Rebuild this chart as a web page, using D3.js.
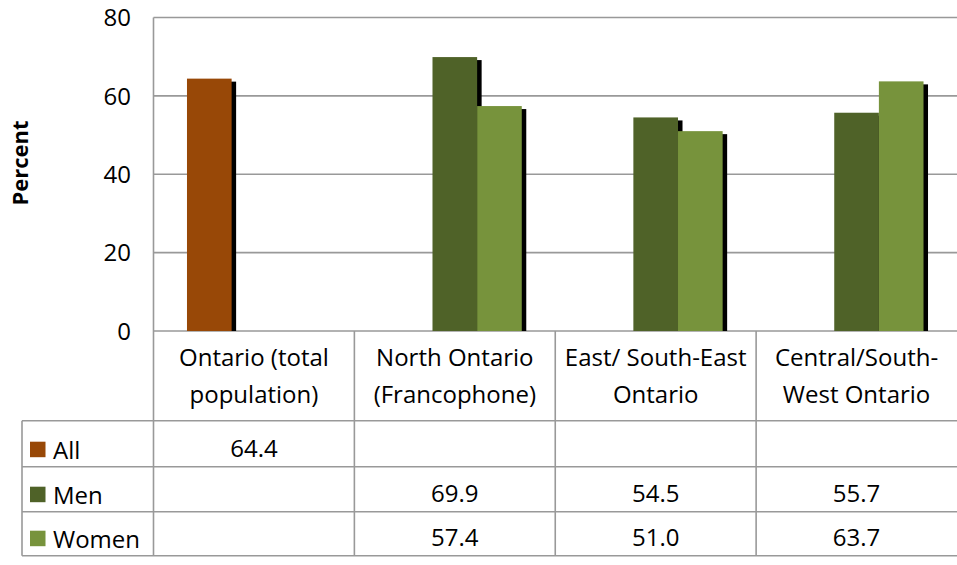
<!DOCTYPE html>
<html>
<head>
<meta charset="utf-8">
<script src="https://cdn.jsdelivr.net/npm/d3@7"></script>
<style>
  body { margin: 0; background: #fff; }
  text { font-family: "Open Sans", "Noto Sans", sans-serif; fill: #000; }
</style>
</head>
<body>
<div id="main"></div>
<script>
// data
var categories = [
    ["Ontario (total", "population)"],
    ["North Ontario", "(Francophone)"],
    ["East/ South-East", "Ontario"],
    ["Central/South-", "West Ontario"]
];
var seriesNames = ["All", "Men", "Women"];
var allValues = [64.4, null, null, null];
var menValues = [null, 69.9, 54.5, 55.7];
var womenValues = [null, 57.4, 51.0, 63.7];
var yTicks = [0, 20, 40, 60, 80];
var seriesColors = ["#984807", "#4f6228", "#77933c"];

var ctx = {
    w: 957,
    h: 565,
    left: 153.5,
    right: 957,
    top: 17.5,
    bottom: 331,
    rows: [420.7, 466.7, 511.7, 555.7],
    legendLeft: 22,
    grid: "#999999",
    fontSize: 24
};

var createChart = function(svg) {
    var series = [allValues, menValues, womenValues];

    var x = d3.scaleBand()
        .domain(d3.range(categories.length))
        .range([ctx.left, ctx.right]);
    var xs = d3.scaleBand()
        .domain(d3.range(seriesNames.length))
        .range([0, x.bandwidth()])
        .paddingOuter(0.75);  // group takes 2/3 of the band
    var y = d3.scaleLinear().domain([0, 80]).range([ctx.bottom, ctx.top]);

    // gridlines
    svg.append("g").selectAll("line")
        .data(yTicks)
        .enter().append("line")
        .attr("x1", ctx.left).attr("x2", ctx.right)
        .attr("y1", function(d) { return y(d); })
        .attr("y2", function(d) { return y(d); })
        .style("stroke", ctx.grid).style("stroke-width", 1.6);

    // tick labels
    svg.append("g").selectAll("text")
        .data(yTicks)
        .enter().append("text")
        .attr("x", 131)
        .attr("y", function(d) { return y(d); })
        .attr("dy", "0.36em")
        .attr("text-anchor", "end")
        .style("font-size", ctx.fontSize + "px")
        .text(function(d) { return d; });

    // axis title
    svg.append("text")
        .attr("transform", "translate(28," + 163 + ") rotate(-90)")
        .attr("text-anchor", "middle")
        .style("font-size", "22px")
        .style("font-weight", "bold")
        .text("Percent");

    // bars with a black shadow, drawn series by series
    svg.append("clipPath").attr("id", "plotclip")
        .append("rect")
        .attr("x", ctx.left).attr("y", 0)
        .attr("width", ctx.right - ctx.left).attr("height", ctx.bottom);
    var bars = svg.append("g").attr("clip-path", "url(#plotclip)");
    series.forEach(function(vals, s) {
        var g = bars.append("g");
        var pts = vals.map(function(v, i) { return {i: i, v: v}; })
            .filter(function(d) { return d.v != null; });
        pts.forEach(function(d) {
            var bx = x(d.i) + xs(s);
            g.append("rect")
                .attr("x", bx + 4.5)
                .attr("y", y(d.v) + 3)
                .attr("width", xs.bandwidth())
                .attr("height", ctx.bottom - y(d.v))
                .style("fill", "#000");
            g.append("rect")
                .attr("x", bx)
                .attr("y", y(d.v))
                .attr("width", xs.bandwidth())
                .attr("height", ctx.bottom - y(d.v))
                .style("fill", seriesColors[s]);
        });
    });

    // table lines
    var lines = svg.append("g").style("stroke", ctx.grid).style("stroke-width", 1.6);
    lines.append("line")
        .attr("x1", ctx.left).attr("x2", ctx.left)
        .attr("y1", ctx.top).attr("y2", ctx.rows[3]);
    lines.append("line")
        .attr("x1", ctx.legendLeft).attr("x2", ctx.legendLeft)
        .attr("y1", ctx.rows[0]).attr("y2", ctx.rows[3]);
    d3.range(1, categories.length).forEach(function(i) {
        lines.append("line")
            .attr("x1", x(i)).attr("x2", x(i))
            .attr("y1", ctx.bottom).attr("y2", ctx.rows[3]);
    });
    ctx.rows.forEach(function(ry) {
        lines.append("line")
            .attr("x1", ctx.legendLeft).attr("x2", ctx.right)
            .attr("y1", ry).attr("y2", ry);
    });

    // category header
    categories.forEach(function(lns, i) {
        var t = svg.append("text")
            .attr("text-anchor", "middle")
            .style("font-size", ctx.fontSize + "px");
        lns.forEach(function(l, k) {
            t.append("tspan")
                .attr("x", x(i) + x.bandwidth() / 2)
                .attr("y", 365.5 + k * 37)
                .text(l);
        });
    });

    // table rows: legend key + values
    series.forEach(function(vals, s) {
        var base = ctx.rows[s + 1] - 9.5;
        svg.append("rect")
            .attr("x", 30).attr("y", base - 15.5)
            .attr("width", 15.5).attr("height", 15.5)
            .style("fill", seriesColors[s]);
        svg.append("text")
            .attr("x", 53).attr("y", base + 1.5)
            .style("font-size", ctx.fontSize + "px")
            .text(seriesNames[s]);
        vals.forEach(function(v, i) {
            if (v == null) return;
            svg.append("text")
                .attr("x", x(i) + x.bandwidth() / 2)
                .attr("y", base)
                .attr("text-anchor", "middle")
                .style("font-size", ctx.fontSize + "px")
                .text(v.toFixed(1));
        });
    });
};

var svgEl = d3.select("#main").append("svg")
    .attr("width", ctx.w)
    .attr("height", ctx.h);
createChart(svgEl);
</script>
</body>
</html>
